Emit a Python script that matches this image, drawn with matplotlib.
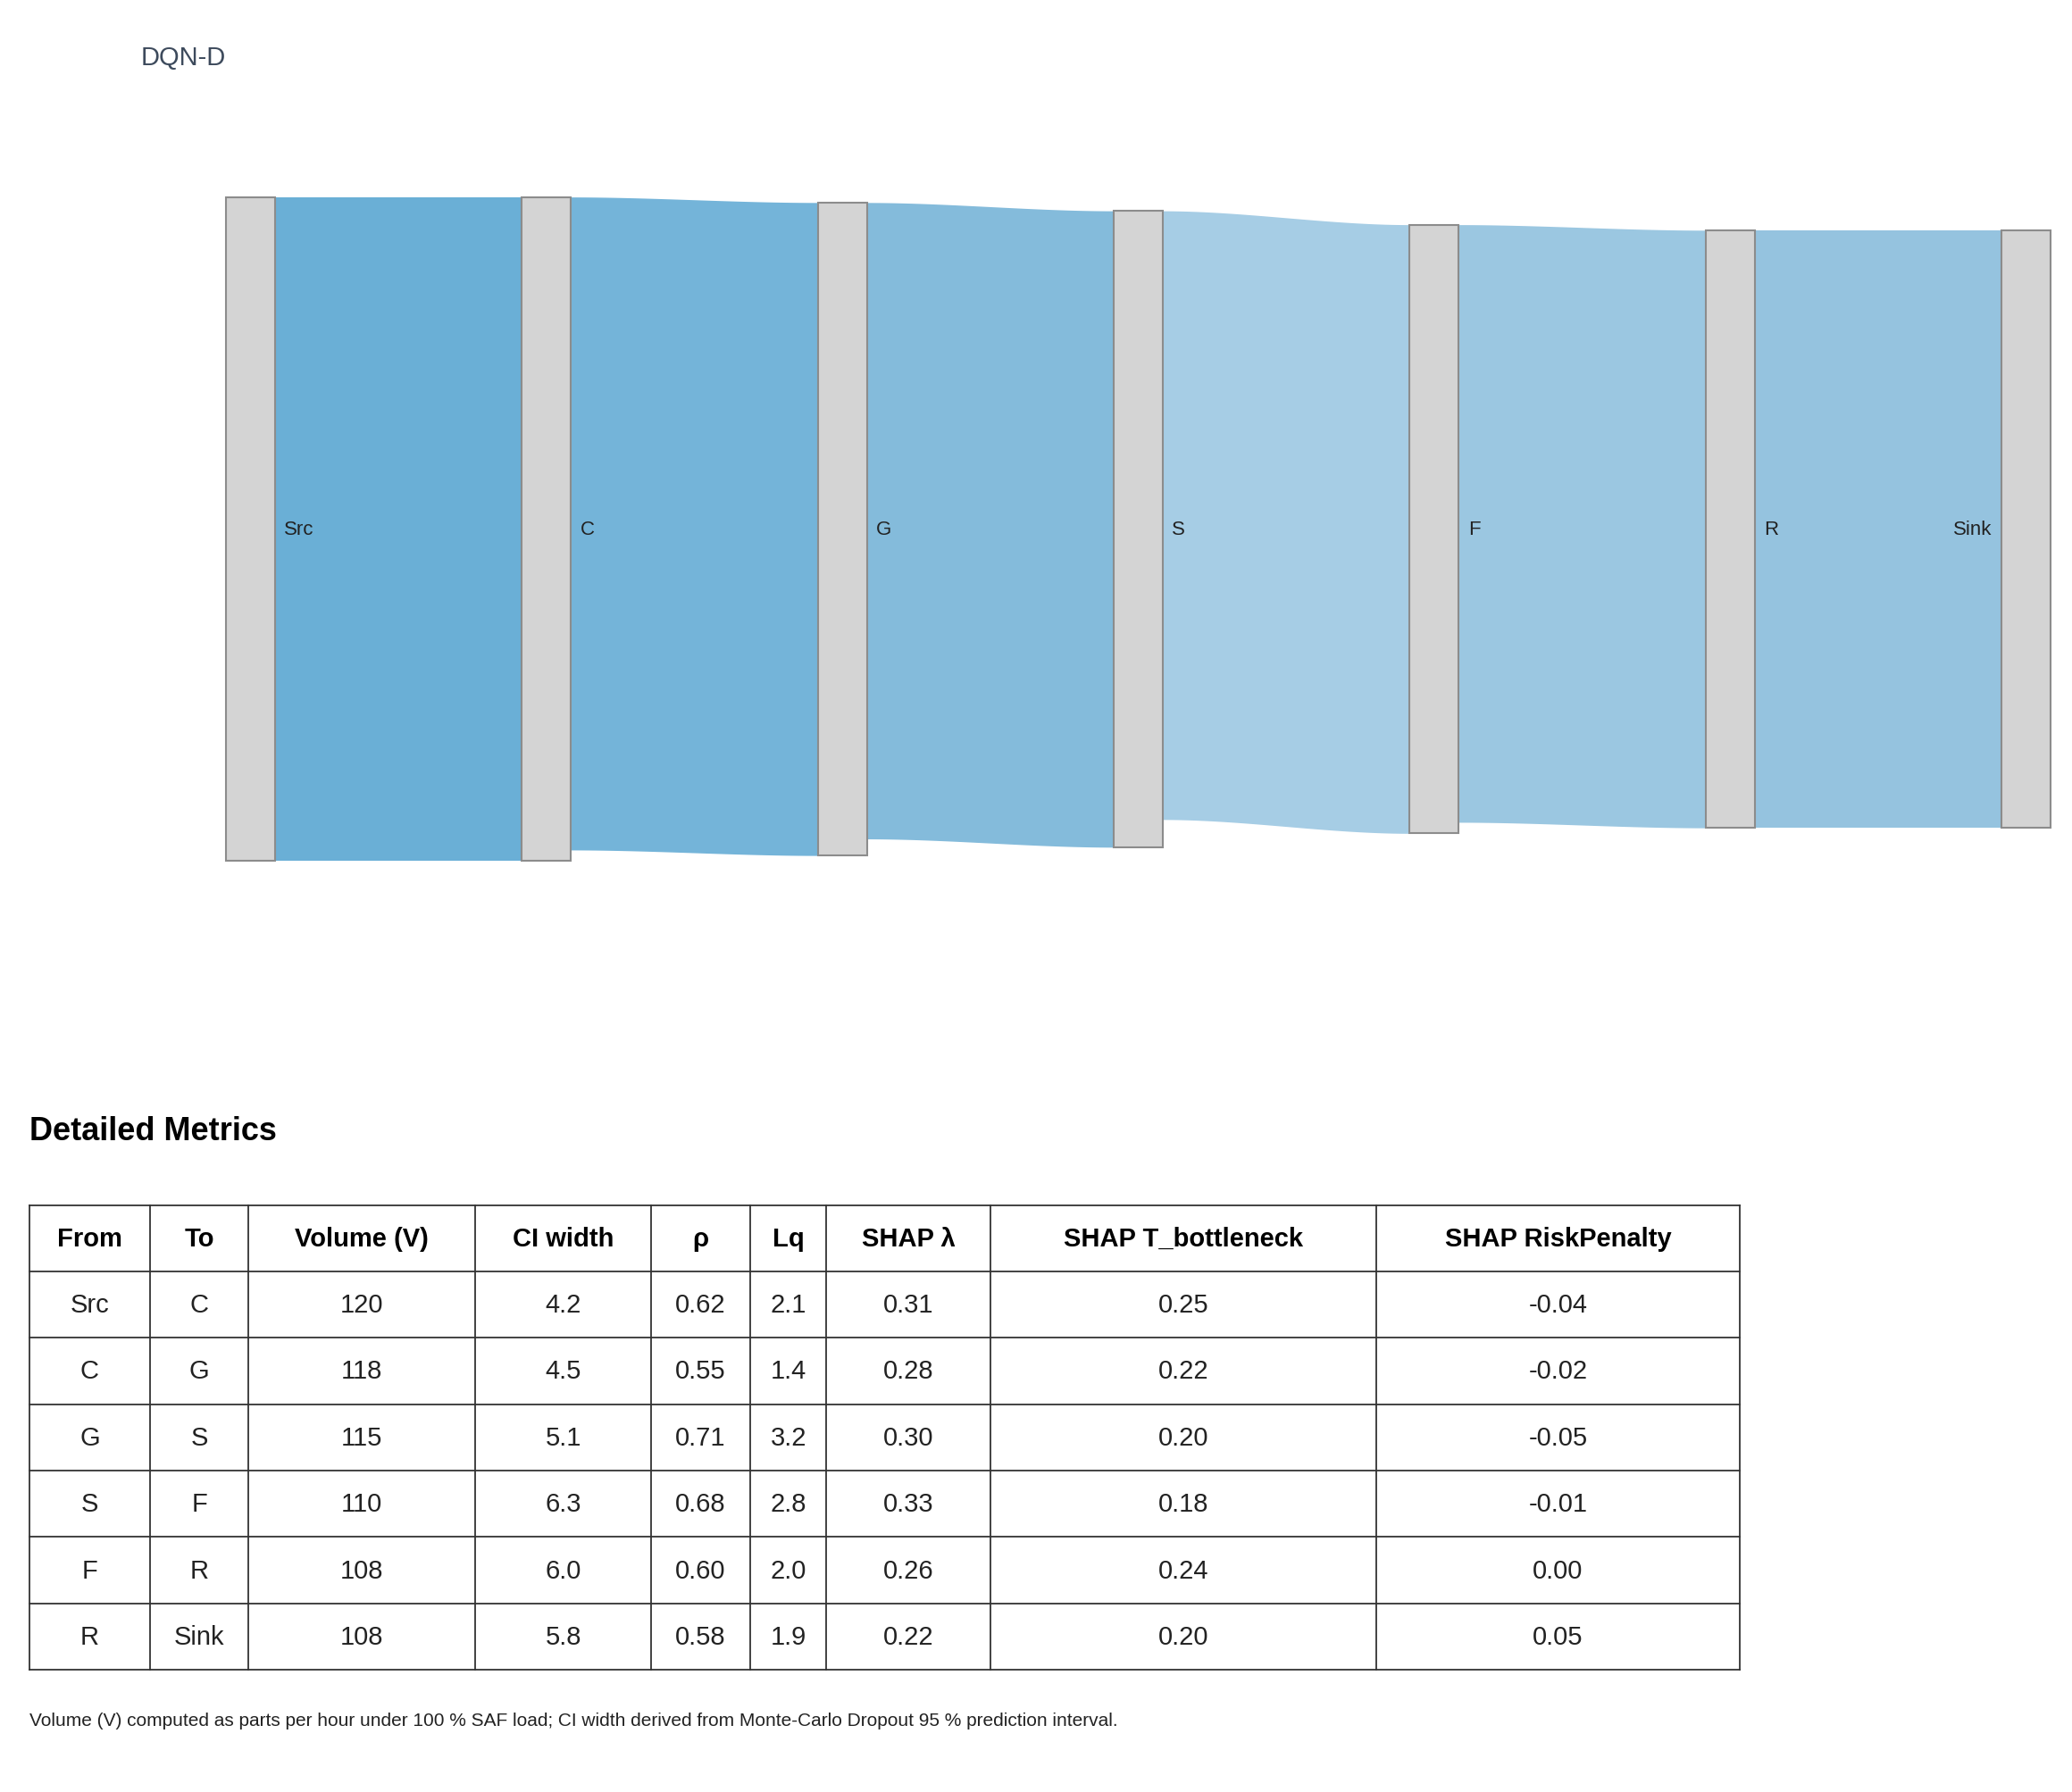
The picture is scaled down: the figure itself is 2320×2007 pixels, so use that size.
import matplotlib

matplotlib.use("Agg")
import matplotlib.pyplot as plt
import numpy as np
from matplotlib.patches import Rectangle

plt.rcParams["font.family"] = ["Liberation Sans", "DejaVu Sans"]

nodes = ["Src", "C", "G", "S", "F", "R", "Sink"]
link_from = ["Src", "C", "G", "S", "F", "R"]
link_to = ["C", "G", "S", "F", "R", "Sink"]
volume = [120, 118, 115, 110, 108, 108]
ci_width = ["4.2", "4.5", "5.1", "6.3", "6.0", "5.8"]
rho = ["0.62", "0.55", "0.71", "0.68", "0.60", "0.58"]
lq = ["2.1", "1.4", "3.2", "2.8", "2.0", "1.9"]
shap_lambda = ["0.31", "0.28", "0.30", "0.33", "0.26", "0.22"]
shap_bottleneck = ["0.25", "0.22", "0.20", "0.18", "0.24", "0.20"]
shap_risk = ["-0.04", "-0.02", "-0.05", "-0.01", "0.00", "0.05"]
headers = ["From", "To", "Volume (V)", "CI width", "ρ", "Lq", "SHAP λ", "SHAP T_bottleneck", "SHAP RiskPenalty"]
link_colors = ["#6aafd6", "#74b4d9", "#84bbdb", "#a6cde5", "#9bc7e1", "#95c3df"]

# canvas in reference display units (1560 x 1350)
fig = plt.figure(figsize=(23.2, 20.08), dpi=100)
ax = fig.add_axes([0, 0, 1, 1])
ax.set_xlim(0, 1560)
ax.set_ylim(1350, 0)
ax.axis("off")

ax.text(106, 44, "DQN-D", fontsize=21, color="#3d4a5c", va="center", ha="left")

# sankey
scale = 500 / 120
center = 399
node_w = 37
node_x = [170 + i * 222.8 for i in range(len(nodes))]
node_val = {}
for f, t, v in zip(link_from, link_to, volume):
    node_val[f] = max(node_val.get(f, 0), v)
    node_val[t] = max(node_val.get(t, 0), v)
node_top = {n: center - node_val[n] * scale / 2 for n in nodes}

t = np.linspace(0, 1, 100)
s = 3 * t**2 - 2 * t**3
for f, tt, v, c in zip(link_from, link_to, volume, link_colors):
    i, j = nodes.index(f), nodes.index(tt)
    x0, x1 = node_x[i] + node_w, node_x[j]
    y0, y1 = node_top[f], node_top[tt]
    h = v * scale
    xs = x0 + (x1 - x0) * t
    top = y0 + (y1 - y0) * s
    ax.fill_between(xs, top, top + h, color=c, lw=0)

for n, x in zip(nodes, node_x):
    h = node_val[n] * scale
    ax.add_patch(Rectangle((x, node_top[n]), node_w, h, facecolor="#d4d4d4", edgecolor="#8c8c8c", lw=1.5))
    if n == "Sink":
        ax.text(x - 7, center, n, ha="right", va="center", fontsize=16, color="#222")
    else:
        ax.text(x + node_w + 7, center, n, ha="left", va="center", fontsize=16, color="#222")

# table
ax.text(22, 852, "Detailed Metrics", fontsize=26, fontweight="bold", va="center", ha="left")
col_edges = [22, 113, 187, 358, 490, 565, 622, 746, 1036, 1310]
row_h = 50
top_y = 908
rows = list(zip(link_from, link_to, [str(v) for v in volume], ci_width, rho, lq,
                shap_lambda, shap_bottleneck, shap_risk))
n_rows = len(rows) + 1
for k in range(n_rows + 1):
    ax.plot([col_edges[0], col_edges[-1]], [top_y + k * row_h] * 2, color="#333", lw=1.3)
for x in col_edges:
    ax.plot([x, x], [top_y, top_y + n_rows * row_h], color="#333", lw=1.3)
for ci, htxt in enumerate(headers):
    xc = (col_edges[ci] + col_edges[ci + 1]) / 2
    ax.text(xc, top_y + row_h / 2, htxt, ha="center", va="center", fontsize=21, fontweight="bold")
for ri, row in enumerate(rows):
    yc = top_y + (ri + 1.5) * row_h
    for ci, val in enumerate(row):
        xc = (col_edges[ci] + col_edges[ci + 1]) / 2
        ax.text(xc, yc, val, ha="center", va="center", fontsize=21, color="#222")

ax.text(22, 1296, "Volume (V) computed as parts per hour under 100 % SAF load; CI width derived from "
        "Monte-Carlo Dropout 95 % prediction interval.", fontsize=15, va="center", ha="left", color="#222")

fig.savefig("out.png", dpi=100)
